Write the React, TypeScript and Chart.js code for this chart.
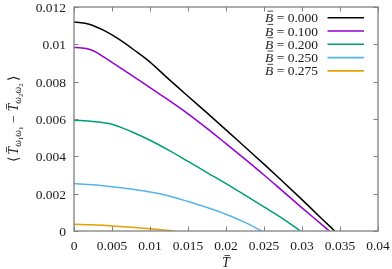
import React, { useEffect, useRef } from "react";
import { Chart, registerables } from "chart.js";

Chart.register(...registerables);

const B_LABELS = ["0.000", "0.100", "0.200", "0.250", "0.275"];
const COLORS = ["#000000", "#9400d3", "#009e73", "#56b4e9", "#e69f00"];

const T_B0 = [0, 0.002, 0.004, 0.006, 0.008, 0.01, 0.0125, 0.015, 0.0175, 0.02, 0.0225, 0.025, 0.0275, 0.03, 0.0325, 0.0343];
const Y_B0 = [0.0112, 0.01108, 0.01073, 0.01025, 0.00967, 0.00905, 0.00812, 0.00722, 0.00633, 0.00542, 0.0045, 0.00358, 0.00264, 0.00168, 0.0007, 0];

const T_B1 = [0, 0.001, 0.002, 0.003, 0.004, 0.006, 0.008, 0.01, 0.0125, 0.015, 0.0175, 0.02, 0.0225, 0.025, 0.0275, 0.03, 0.0325, 0.0336];
const Y_B1 = [0.00983, 0.00981, 0.00974, 0.00956, 0.0093, 0.00877, 0.00823, 0.00768, 0.007, 0.00628, 0.0055, 0.00468, 0.00385, 0.003, 0.00212, 0.00124, 0.00038, 0];

const T_B2 = [0, 0.0025, 0.005, 0.0075, 0.01, 0.0125, 0.015, 0.0175, 0.02, 0.0225, 0.025, 0.0275, 0.0298];
const Y_B2 = [0.00593, 0.00587, 0.00572, 0.00533, 0.00486, 0.00432, 0.00373, 0.00313, 0.00254, 0.00192, 0.00129, 0.00065, 0];

const T_B3 = [0, 0.0025, 0.005, 0.0075, 0.01, 0.0125, 0.015, 0.0175, 0.02, 0.0225, 0.0247];
const Y_B3 = [0.00254, 0.00248, 0.00237, 0.00225, 0.00209, 0.00188, 0.00158, 0.00126, 0.0009, 0.00046, 0];

const T_B4 = [0, 0.0025, 0.005, 0.0075, 0.01, 0.0132];
const Y_B4 = [0.00036, 0.00033, 0.00027, 0.0002, 0.00012, 0];

const SERIES_T = [T_B0, T_B1, T_B2, T_B3, T_B4];
const SERIES_Y = [Y_B0, Y_B1, Y_B2, Y_B3, Y_B4];

const X_TICKS = [0, 0.005, 0.01, 0.015, 0.02, 0.025, 0.03, 0.035, 0.04];
const X_TICK_LABELS = ["0", "0.005", "0.01", "0.015", "0.02", "0.025", "0.03", "0.035", "0.04"];
const Y_TICKS = [0, 0.002, 0.004, 0.006, 0.008, 0.01, 0.012];
const Y_TICK_LABELS = ["0", "0.002", "0.004", "0.006", "0.008", "0.01", "0.012"];

const FONT = '"Liberation Serif"';
const AXIS_COLOR = "#808080";
const TEXT_COLOR = "#1a1a1a";

function setFont(ctx: CanvasRenderingContext2D, size: number, italic: boolean) {
  ctx.font = `${italic ? "italic " : ""}${size}px ${FONT}`;
}

function drawBarLetter(ctx: CanvasRenderingContext2D, ch: string, x: number, y: number, size: number) {
  setFont(ctx, size, true);
  const w = ctx.measureText(ch).width;
  ctx.fillText(ch, x, y);
  ctx.save();
  ctx.lineWidth = 0.8;
  ctx.beginPath();
  const by = y - size * 0.82;
  ctx.moveTo(x + w * 0.3, by);
  ctx.lineTo(x + w * 1.0, by);
  ctx.stroke();
  ctx.restore();
  return w;
}

const framePlugin = {
  id: "frame",
  afterDraw(chart: any) {
    const ctx: CanvasRenderingContext2D = chart.ctx;
    const xs = chart.scales.x;
    const ys = chart.scales.y;
    const { left, right, top, bottom } = chart.chartArea;
    ctx.save();
    ctx.strokeStyle = AXIS_COLOR;
    ctx.lineWidth = 1.3;
    ctx.strokeRect(left, top, right - left, bottom - top);
    ctx.lineWidth = 1;
    const tl = 4.5;
    ctx.beginPath();
    X_TICKS.forEach((v) => {
      const px = Math.round(xs.getPixelForValue(v)) + 0.5;
      ctx.moveTo(px, bottom);
      ctx.lineTo(px, bottom - tl);
      ctx.moveTo(px, top);
      ctx.lineTo(px, top + tl);
    });
    Y_TICKS.forEach((v) => {
      const py = Math.round(ys.getPixelForValue(v)) + 0.5;
      ctx.moveTo(left, py);
      ctx.lineTo(left + tl, py);
      ctx.moveTo(right, py);
      ctx.lineTo(right - tl, py);
    });
    ctx.stroke();

    // tick labels
    ctx.fillStyle = TEXT_COLOR;
    setFont(ctx, 13.5, false);
    ctx.textAlign = "center";
    ctx.textBaseline = "alphabetic";
    X_TICKS.forEach((v, i) => {
      ctx.fillText(X_TICK_LABELS[i], xs.getPixelForValue(v), bottom + 19);
    });
    ctx.textAlign = "right";
    Y_TICKS.forEach((v, i) => {
      ctx.fillText(Y_TICK_LABELS[i], left - 8, ys.getPixelForValue(v) + 5);
    });

    // x title
    ctx.textAlign = "left";
    ctx.strokeStyle = TEXT_COLOR;
    {
      setFont(ctx, 14, true);
      const w = ctx.measureText("T").width;
      drawBarLetter(ctx, "T", (left + right) / 2 - w / 2, 267, 14);
    }

    // y title (rotated)
    ctx.save();
    ctx.translate(14, (top + bottom) / 2);
    ctx.rotate(-Math.PI / 2);
    const main = 14;
    const sub = 9.5;
    const subsub = 7;
    let total = 0;
    setFont(ctx, main, false);
    total += ctx.measureText("\u27E8").width + 2;
    total += ctx.measureText(" \u2212 ").width;
    total += ctx.measureText("\u27E9").width + 2;
    setFont(ctx, main, true);
    total += ctx.measureText("T").width * 2;
    setFont(ctx, sub, true);
    total += ctx.measureText("\u03C9").width * 4;
    setFont(ctx, subsub, false);
    total += ctx.measureText("1").width * 4;
    let x = -total / 2;
    const base = 4;
    ctx.fillStyle = TEXT_COLOR;
    const drawSubs = (digit: string) => {
      for (let k = 0; k < 2; k++) {
        setFont(ctx, sub, true);
        ctx.fillText("\u03C9", x, base + 3);
        x += ctx.measureText("\u03C9").width;
        setFont(ctx, subsub, false);
        ctx.fillText(digit, x, base + 5);
        x += ctx.measureText(digit).width;
      }
    };
    setFont(ctx, main, false);
    ctx.fillText("\u27E8", x, base);
    x += ctx.measureText("\u27E8").width + 2;
    x += drawBarLetter(ctx, "T", x, base, main);
    drawSubs("1");
    setFont(ctx, main, false);
    ctx.fillText(" \u2212 ", x, base);
    x += ctx.measureText(" \u2212 ").width;
    x += drawBarLetter(ctx, "T", x, base, main);
    drawSubs("2");
    setFont(ctx, main, false);
    ctx.fillText("\u27E9", x + 2, base);
    ctx.restore();

    // legend
    const rowY0 = 17.7;
    const rowH = 13.3;
    B_LABELS.forEach((lab, i) => {
      const cy = rowY0 + i * rowH;
      const textRight = 318;
      setFont(ctx, 13.5, false);
      const rest = " = " + lab;
      const rw = ctx.measureText(rest).width;
      setFont(ctx, 13.5, true);
      const bw = ctx.measureText("B").width;
      const sx = textRight - rw - bw;
      ctx.fillStyle = TEXT_COLOR;
      ctx.strokeStyle = TEXT_COLOR;
      ctx.textAlign = "left";
      ctx.textBaseline = "alphabetic";
      drawBarLetter(ctx, "B", sx, cy + 4.5, 13.5);
      setFont(ctx, 13.5, false);
      ctx.fillText(rest, sx + bw, cy + 4.5);
      ctx.strokeStyle = COLORS[i];
      ctx.lineWidth = 1.6;
      ctx.beginPath();
      ctx.moveTo(327.5, cy);
      ctx.lineTo(364, cy);
      ctx.stroke();
    });
    ctx.restore();
  },
};

export default function App() {
  const ref = useRef<HTMLCanvasElement | null>(null);
  useEffect(() => {
    if (!ref.current) return;
    const datasets = SERIES_T.map((ts, i) => ({
      label: "B = " + B_LABELS[i],
      data: ts.map((t, j) => ({ x: t, y: SERIES_Y[i][j] })),
      borderColor: COLORS[i],
      backgroundColor: COLORS[i],
      borderWidth: 1.5,
      pointRadius: 0,
      cubicInterpolationMode: "monotone" as const,
      fill: false,
    }));
    const chart = new Chart(ref.current, {
      type: "line",
      data: { datasets },
      options: {
        animation: false,
        responsive: false,
        devicePixelRatio: 1,
        layout: { padding: { left: 74, right: 14, top: 7, bottom: 38 } },
        plugins: { legend: { display: false }, tooltip: { enabled: false } },
        scales: {
          x: { type: "linear", min: 0, max: 0.04, display: false },
          y: { type: "linear", min: 0, max: 0.012, display: false },
        },
      },
      plugins: [framePlugin],
    });
    return () => chart.destroy();
  }, []);
  return (
    <div style={{ position: "fixed", left: 0, top: 0, width: 392, height: 269, background: "#fff" }}>
      <canvas ref={ref} width={392} height={269} style={{ width: 392, height: 269 }} />
    </div>
  );
}
